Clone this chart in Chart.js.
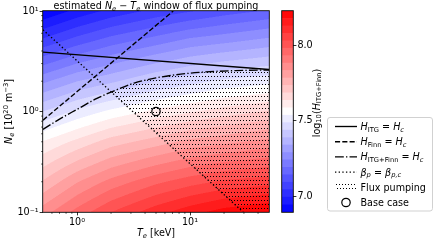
<!DOCTYPE html>
<html>
<head>
<meta charset="utf-8">
<script src="https://cdn.jsdelivr.net/npm/chart.js@4.4.1/dist/chart.umd.min.js"></script>
<style>
  html, body { margin: 0; padding: 0; background: #fff; overflow: hidden; }
  #wrap { position: relative; width: 436px; height: 243px; }
  canvas { position: absolute; top: 0; }
  #main { left: 0; }
  #cbar { left: 270px; }
</style>
</head>
<body>
<div id="wrap">
  <canvas id="main" width="436" height="243"></canvas>
  <canvas id="cbar" width="50" height="243"></canvas>
</div>
<script>
// Ne-Te window of flux pumping: contour field + threshold curves
const FONT = '"DejaVu Sans", sans-serif';
const FS = 9.6;

// log10(H_ITG+Finn) (rows follow NE_GRID, columns TE_GRID)
const TE_GRID = [0.5, 1, 2, 5, 10, 20, 50];
const NE_GRID = [0.1, 0.2, 0.5, 1, 2, 5, 10];
const LOG_H = [
  [7.86, 7.95, 8.03, 8.11, 8.16, 8.20, 8.23],
  [7.74, 7.83, 7.90, 7.97, 8.01, 8.04, 8.06],
  [7.59, 7.65, 7.71, 7.76, 7.80, 7.82, 7.85],
  [7.44, 7.50, 7.55, 7.60, 7.63, 7.66, 7.69],
  [7.28, 7.34, 7.38, 7.44, 7.47, 7.50, 7.52],
  [7.06, 7.12, 7.17, 7.22, 7.26, 7.28, 7.31],
  [6.90, 6.96, 7.01, 7.06, 7.09, 7.12, 7.15]
];

// contour levels and colour bar ticks
const LEVEL_MIN = 6.897;
const LEVEL_MAX = 8.228;
const N_BANDS = 27;
const CB_TICKS = [7.0, 7.5, 8.0];
const CB_TICK_LABELS = ['7.0', '7.5', '8.0'];

// threshold curves
const ITG_TE = [0.5, 50];
const ITG_NE = [3.9, 2.62];
const FINN_TE = [0.5, 7.1];
const FINN_NE = [0.82, 10];
const BOTH_TE = [0.5, 0.7, 1, 1.5, 2.2, 3.2, 5, 7.5, 12, 25, 50];
const BOTH_NE = [0.665, 0.84, 1.05, 1.35, 1.63, 1.92, 2.16, 2.32, 2.45, 2.55, 2.59];
const BETA_TE = [0.5, 29.5];
const BETA_NE = [6.5, 0.1];
const BASE_TE = [5];
const BASE_NE = [1];

const X_TICKS = [1, 10];
const X_TICK_LABELS = ['10⁰', '10¹'];
const Y_TICKS = [0.1, 1, 10];
const Y_TICK_LABELS = ['10⁻¹', '10⁰', '10¹'];

const LW = 1.35;
const DASH = [5.1, 2.2];
const DASHDOT = [8.8, 2.2, 1.35, 2.2];
const DOT = [1.35, 2.3];

Chart.defaults.font.family = FONT;
Chart.defaults.font.size = FS;
Chart.defaults.color = '#000';

const LEVEL_STEP = (LEVEL_MAX - LEVEL_MIN) / N_BANDS;

function bwr(t) {
  const f = Math.min(255, Math.max(0, Math.floor(t * 256))) / 255;
  if (f < 0.5) {
    const v = Math.round(2 * f * 255);
    return [v, v, 255];
  }
  const v = Math.round(2 * (1 - f) * 255);
  return [255, v, v];
}

const BAND_RGB = [];
for (let i = 0; i < N_BANDS; i++) {
  BAND_RGB.push(bwr((i + 0.5) / N_BANDS));
}
const rgbCss = (c) => `rgb(${c[0]},${c[1]},${c[2]})`;

const LOG_TE = TE_GRID.map(Math.log10);
const LOG_NE = NE_GRID.map(Math.log10);

function segIndex(arr, v) {
  let i = 0;
  while (i < arr.length - 2 && v > arr[i + 1]) i++;
  return i;
}

function fieldAt(lt, ln) {
  const i = segIndex(LOG_TE, lt);
  const j = segIndex(LOG_NE, ln);
  const fx = (lt - LOG_TE[i]) / (LOG_TE[i + 1] - LOG_TE[i]);
  const fy = (ln - LOG_NE[j]) / (LOG_NE[j + 1] - LOG_NE[j]);
  return LOG_H[j][i] * (1 - fx) * (1 - fy) + LOG_H[j][i + 1] * fx * (1 - fy)
    + LOG_H[j + 1][i] * (1 - fx) * fy + LOG_H[j + 1][i + 1] * fx * fy;
}

function bandOf(v) {
  let k = Math.floor((v - LEVEL_MIN) / LEVEL_STEP);
  return Math.min(N_BANDS - 1, Math.max(0, k));
}

const toPoints = (xs, ys) => xs.map((x, i) => ({ x, y: ys[i] }));

// --- rich text (italic / sub / superscript) ---
const STYLES = {
  n: { s: 1, dy: 0, it: false },
  i: { s: 1, dy: 0, it: true },
  b: { s: 0.7, dy: 0.2, it: false },
  bi: { s: 0.7, dy: 0.2, it: true },
  p: { s: 0.7, dy: -0.38, it: false }
};

function setFont(ctx, st, size) {
  const S = STYLES[st];
  ctx.font = `${S.it ? 'italic ' : ''}${(size * S.s).toFixed(2)}px ${FONT}`;
}

function richWidth(ctx, parts, size) {
  let w = 0;
  for (const [t, st] of parts) {
    setFont(ctx, st, size);
    w += ctx.measureText(t).width;
  }
  return w;
}

function drawRich(ctx, parts, x, y, size, align) {
  const w = richWidth(ctx, parts, size);
  let cx = align === 'center' ? x - w / 2 : (align === 'right' ? x - w : x);
  ctx.textAlign = 'left';
  ctx.textBaseline = 'alphabetic';
  ctx.fillStyle = '#000';
  for (const [t, st] of parts) {
    setFont(ctx, st, size);
    ctx.fillText(t, cx, y + STYLES[st].dy * size);
    cx += ctx.measureText(t).width;
  }
}

function drawRichRotated(ctx, parts, x, y, size) {
  ctx.save();
  ctx.translate(x, y);
  ctx.rotate(-Math.PI / 2);
  drawRich(ctx, parts, 0, 0, size, 'center');
  ctx.restore();
}

const TITLE = [['estimated ', 'n'], ['N', 'i'], ['e', 'bi'], [' − ', 'n'], ['T', 'i'], ['e', 'bi'], [' window of flux pumping', 'n']];
const X_LABEL = [['T', 'i'], ['e', 'bi'], [' [keV]', 'n']];
const Y_LABEL = [['N', 'i'], ['e', 'bi'], [' [10', 'n'], ['20', 'p'], [' m', 'n'], ['−3', 'p'], [']', 'n']];
const CB_LABEL = [['log', 'n'], ['10', 'b'], ['(', 'n'], ['H', 'i'], ['ITG+Finn', 'b'], [')', 'n']];

const LEGEND = [
  { kind: 'line', dash: [], parts: [['H', 'i'], ['ITG', 'b'], [' = ', 'n'], ['H', 'i'], ['c', 'bi']] },
  { kind: 'line', dash: DASH, parts: [['H', 'i'], ['Finn', 'b'], [' = ', 'n'], ['H', 'i'], ['c', 'bi']] },
  { kind: 'line', dash: DASHDOT, parts: [['H', 'i'], ['ITG+Finn', 'b'], [' = ', 'n'], ['H', 'i'], ['c', 'bi']] },
  { kind: 'line', dash: DOT, parts: [['β', 'i'], ['p', 'bi'], [' = ', 'n'], ['β', 'i'], ['p,c', 'bi']] },
  { kind: 'hatch', parts: [['Flux pumping', 'n']] },
  { kind: 'marker', parts: [['Base case', 'n']] }
];

let hatchPattern = null;
function getHatch(ctx) {
  if (!hatchPattern) {
    const c = document.createElement('canvas');
    c.width = 6;
    c.height = 8;
    const g = c.getContext('2d');
    g.fillStyle = '#000';
    g.fillRect(0, 0, 1, 1);
    g.fillRect(3, 0, 1, 1);
    g.fillRect(1, 4, 1, 1);
    g.fillRect(4, 4, 1, 1);
    hatchPattern = ctx.createPattern(c, 'repeat');
  }
  return hatchPattern;
}

function drawHatch(chart) {
  const { ctx, chartArea: a, scales: { x, y } } = chart;
  ctx.save();
  ctx.beginPath();
  ctx.rect(a.left, a.top, a.right - a.left, a.bottom - a.top);
  ctx.clip();
  // keep the side of the beta_p line with the higher pressure
  ctx.beginPath();
  BETA_TE.forEach((t, k) => {
    const px = x.getPixelForValue(t);
    const py = y.getPixelForValue(BETA_NE[k]);
    if (k === 0) ctx.moveTo(px, py); else ctx.lineTo(px, py);
  });
  ctx.lineTo(a.right, a.bottom);
  ctx.lineTo(a.right, a.top);
  ctx.lineTo(a.left, a.top);
  ctx.closePath();
  ctx.clip();
  // below the H_ITG+Finn = H_c curve
  const line = chart.getDatasetMeta(2).dataset;
  ctx.beginPath();
  line.path(ctx);
  ctx.lineTo(x.getPixelForValue(x.max), y.getPixelForValue(y.min));
  ctx.lineTo(x.getPixelForValue(x.min), y.getPixelForValue(y.min));
  ctx.closePath();
  ctx.fillStyle = getHatch(ctx);
  ctx.fill();
  ctx.restore();
}

const fieldPlugin = {
  id: 'field',
  beforeDatasetsDraw(chart) {
    const { ctx, chartArea: a, scales: { x, y } } = chart;
    const L = Math.round(a.left);
    const T = Math.round(a.top);
    const W = Math.round(a.right) - L;
    const H = Math.round(a.bottom) - T;
    const off = document.createElement('canvas');
    off.width = W;
    off.height = H;
    const octx = off.getContext('2d');
    const img = octx.createImageData(W, H);
    const sub = [0.25, 0.75];
    for (let py = 0; py < H; py++) {
      for (let px = 0; px < W; px++) {
        let r = 0, g = 0, b = 0;
        for (const sy of sub) {
          const ln = Math.log10(y.getValueForPixel(T + py + sy));
          for (const sx of sub) {
            const lt = Math.log10(x.getValueForPixel(L + px + sx));
            const c = BAND_RGB[bandOf(fieldAt(lt, ln))];
            r += c[0]; g += c[1]; b += c[2];
          }
        }
        const o = (py * W + px) * 4;
        img.data[o] = r / 4;
        img.data[o + 1] = g / 4;
        img.data[o + 2] = b / 4;
        img.data[o + 3] = 255;
      }
    }
    octx.putImageData(img, 0, 0);
    ctx.drawImage(off, L, T);
    drawHatch(chart);
  }
};

function minorTicks(lo, hi) {
  const out = [];
  for (let d = -2; d <= 2; d++) {
    for (let k = 2; k <= 9; k++) {
      const v = k * Math.pow(10, d);
      if (v > lo * 1.0001 && v < hi * 0.9999) out.push(v);
    }
  }
  return out;
}

const decorPlugin = {
  id: 'decor',
  afterDraw(chart) {
    const { ctx, chartArea: a, scales: { x, y } } = chart;
    ctx.save();
    // minor ticks
    ctx.strokeStyle = '#000';
    ctx.lineWidth = 0.6;
    ctx.beginPath();
    for (const v of minorTicks(x.min, x.max)) {
      const px = x.getPixelForValue(v);
      ctx.moveTo(px, a.bottom);
      ctx.lineTo(px, a.bottom + 1.9);
    }
    for (const v of minorTicks(y.min, y.max)) {
      const py = y.getPixelForValue(v);
      ctx.moveTo(a.left, py);
      ctx.lineTo(a.left - 1.9, py);
    }
    ctx.stroke();
    // frame
    ctx.lineWidth = 0.9;
    ctx.strokeRect(a.left - 0.3, a.top - 0.3, a.right - a.left + 0.6, a.bottom - a.top + 0.6);

    drawRich(ctx, TITLE, (a.left + a.right) / 2, 8.6, FS, 'center');
    drawRich(ctx, X_LABEL, (a.left + a.right) / 2, 236, FS, 'center');
    drawRichRotated(ctx, Y_LABEL, 11.8, (a.top + a.bottom) / 2, FS);
    drawRichRotated(ctx, CB_LABEL, 319.5, 103, FS);

    // legend
    const bx = 327.5, by = 117.5, bw = 105, bh = 93.5;
    ctx.beginPath();
    ctx.roundRect(bx, by, bw, bh, 2.5);
    ctx.fillStyle = 'rgba(255,255,255,0.8)';
    ctx.fill();
    ctx.strokeStyle = '#cccccc';
    ctx.lineWidth = 0.9;
    ctx.stroke();
    const hx1 = 335, hx2 = 357, tx = 360.5;
    LEGEND.forEach((item, k) => {
      const ry = 126.5 + k * 15.2;
      ctx.strokeStyle = '#000';
      if (item.kind === 'line') {
        ctx.setLineDash(item.dash);
        ctx.lineWidth = LW;
        ctx.beginPath();
        ctx.moveTo(hx1, ry);
        ctx.lineTo(hx2, ry);
        ctx.stroke();
        ctx.setLineDash([]);
      } else if (item.kind === 'hatch') {
        ctx.fillStyle = getHatch(ctx);
        ctx.fillRect(hx1, ry - 3.5, hx2 - hx1, 7);
      } else {
        ctx.lineWidth = 1.2;
        ctx.beginPath();
        ctx.arc((hx1 + hx2) / 2, ry, 4.2, 0, Math.PI * 2);
        ctx.stroke();
      }
      drawRich(ctx, item.parts, tx, ry + 3.4, FS, 'left');
    });
    ctx.restore();
  }
};

const lineDs = (xs, ys, dash, extra) => Object.assign({
  data: toPoints(xs, ys),
  showLine: true,
  borderColor: '#000',
  borderWidth: LW,
  borderDash: dash,
  pointRadius: 0,
  fill: false
}, extra || {});

new Chart(document.getElementById('main'), {
  type: 'scatter',
  data: {
    datasets: [
      lineDs(ITG_TE, ITG_NE, []),
      lineDs(FINN_TE, FINN_NE, DASH),
      lineDs(BOTH_TE, BOTH_NE, DASHDOT, { cubicInterpolationMode: 'monotone' }),
      lineDs(BETA_TE, BETA_NE, DOT),
      {
        data: toPoints(BASE_TE, BASE_NE),
        showLine: false,
        pointRadius: 4.2,
        pointBorderWidth: 1.2,
        pointBorderColor: '#000',
        pointBackgroundColor: 'rgba(0,0,0,0)'
      }
    ]
  },
  options: {
    responsive: false,
    animation: false,
    events: [],
    layout: { padding: { top: 11, right: 167, left: 0, bottom: 0 } },
    plugins: { legend: { display: false }, tooltip: { enabled: false } },
    scales: {
      x: {
        type: 'logarithmic',
        min: 0.5,
        max: 50,
        afterBuildTicks: (s) => { s.ticks = X_TICKS.map((v) => ({ value: v })); },
        afterFit: (s) => { s.height = 31; },
        ticks: { callback: (v, i) => X_TICK_LABELS[i], padding: 1, maxRotation: 0, autoSkip: false, color: '#000' },
        grid: { display: true, drawOnChartArea: false, tickLength: 3.4, tickColor: '#000', lineWidth: 0.8 },
        border: { display: false }
      },
      y: {
        type: 'logarithmic',
        min: 0.1,
        max: 10,
        afterBuildTicks: (s) => { s.ticks = Y_TICKS.map((v) => ({ value: v })); },
        afterFit: (s) => { s.width = 43; },
        ticks: { callback: (v, i) => Y_TICK_LABELS[i], padding: 1, autoSkip: false, color: '#000' },
        grid: { display: true, drawOnChartArea: false, tickLength: 3.4, tickColor: '#000', lineWidth: 0.8 },
        border: { display: false }
      }
    }
  },
  plugins: [fieldPlugin, decorPlugin]
});

// colour bar: one floating bar per contour band
const cbOutline = {
  id: 'cbOutline',
  afterDraw(chart) {
    const { ctx, chartArea: a } = chart;
    ctx.save();
    ctx.strokeStyle = '#000';
    ctx.lineWidth = 0.9;
    ctx.strokeRect(a.left - 0.3, a.top - 0.3, a.right - a.left + 0.6, a.bottom - a.top + 0.6);
    ctx.restore();
  }
};

const bandDatasets = BAND_RGB.map((c, i) => ({
  data: [[LEVEL_MIN + i * LEVEL_STEP, LEVEL_MIN + (i + 1) * LEVEL_STEP]],
  backgroundColor: rgbCss(c),
  borderWidth: 0,
  grouped: false,
  barPercentage: 1,
  categoryPercentage: 1
}));

new Chart(document.getElementById('cbar'), {
  type: 'bar',
  data: { labels: [''], datasets: bandDatasets },
  options: {
    responsive: false,
    animation: false,
    events: [],
    layout: { padding: { top: 11, bottom: 31, left: 12, right: 0 } },
    plugins: { legend: { display: false }, tooltip: { enabled: false } },
    scales: {
      x: { display: false },
      y: {
        position: 'right',
        min: LEVEL_MIN,
        max: LEVEL_MAX,
        afterBuildTicks: (s) => { s.ticks = CB_TICKS.map((v) => ({ value: v })); },
        afterFit: (s) => { s.width = 27; },
        ticks: { callback: (v, i) => CB_TICK_LABELS[i], padding: 1, autoSkip: false, color: '#000' },
        grid: { display: true, drawOnChartArea: false, tickLength: 3.4, tickColor: '#000', lineWidth: 0.8 },
        border: { display: false }
      }
    }
  },
  plugins: [cbOutline]
});
</script>
</body>
</html>
